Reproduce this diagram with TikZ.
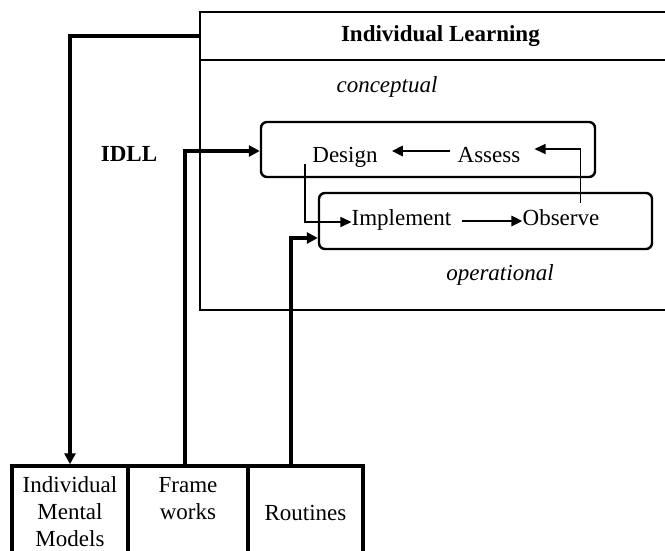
\documentclass[tikz,border=0pt]{standalone}
\usepackage{fontspec}
\setmainfont{Liberation Serif}
\usetikzlibrary{arrows.meta}
\begin{document}
\begin{tikzpicture}[x=1pt,y=-1pt,
  every node/.style={font=\fontsize{23}{27}\selectfont},
  frame/.style={draw, line width=1.8pt, inner sep=0pt},
  rbox/.style={draw, line width=2.4pt, rounded corners=6pt, inner sep=0pt},
  word/.style={inner sep=0pt, anchor=base},
  cell/.style={draw, line width=3.5pt, align=center, inner sep=0pt, minimum height=94pt},
  bigarr/.style={line width=4pt, -{Triangle[length=11pt,width=11pt]}},
  midarr/.style={line width=2.7pt, -{Triangle[length=11pt,width=10pt]}},
  thinarr/.style={line width=1.5pt, -{Triangle[length=11pt,width=10pt]}}]
\clip (0,0) rectangle (665,550);
% outer frame
\node[frame, minimum width=481pt, minimum height=48pt, anchor=north west] (hdr) at (199,11) {\bfseries Individual Learning};
\node[frame, minimum width=481pt, minimum height=250pt, anchor=north west] (body) at (199,59) {};
\node (concept) at (387,87) {\itshape conceptual};
\node (oper) at (500,275) {\itshape operational};
\node (idll) at (129,154) {\bfseries IDLL};
% rounded boxes
\node[rbox, minimum width=334pt, minimum height=55pt] (topbox) at (428,149.5) {};
\node[rbox, minimum width=333pt, minimum height=56pt] (botbox) at (485.5,221) {};
% words
\node[word] (design) at (345,162) {Design};
\node[word] (assess) at (489,162) {Assess};
\node[word] (impl) at (401.5,225) {Implement};
\node[word] (obs) at (561,225) {Observe};
% bottom cells
\node[cell, minimum width=116pt] (imm) at (70,513) {};
\node[cell, minimum width=120pt] (fw) at (188,513) {};
\node[cell, minimum width=115pt] (rt) at (305.5,513) {Routines};
\node[align=center, inner sep=0pt, anchor=base] (immtxt) at (70,546) {Individual\\Mental\\Models};
\node[align=center, inner sep=0pt, anchor=base] (fwtxt) at (188,519) {Frame\\works};
% connectors
\draw[midarr] ([xshift=-7pt,yshift=11pt]assess.base west) -- ([xshift=14pt,yshift=11pt]design.base east);
\draw[midarr] ([xshift=10pt,yshift=4pt]impl.base east) -- ([yshift=4pt]obs.base west);
\draw[thinarr] ([xshift=-7pt,yshift=-2pt]design.base west) |- ([yshift=3pt]impl.base west);
\draw[thinarr] ([xshift=-19pt,yshift=22pt]obs.base east) |- ([xshift=14pt,yshift=13pt]assess.base east);
\draw[bigarr] (hdr.west) -| (imm.north);
\draw[bigarr] ([xshift=-3pt]fw.north) |- ([yshift=-1.5pt]topbox.west);
\draw[bigarr] ([xshift=-15pt]rt.north) |- ([yshift=-17pt]botbox.west);
\end{tikzpicture}
\end{document}
